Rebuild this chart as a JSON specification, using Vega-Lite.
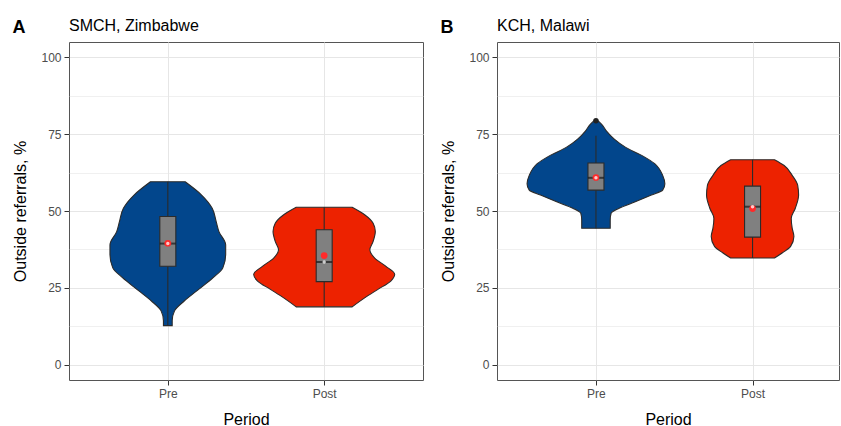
{
  "$schema": "https://vega.github.io/schema/vega-lite/v6.json",
  "background": "white",
  "padding": {"left": 12, "top": 17, "right": 1, "bottom": 1},
  "spacing": 16,
  "datasets": {
    "violin": [
      {"panel": "A", "period": "Pre", "y": 12.7, "lo": 0.972, "hi": 1.028},
      {"panel": "A", "period": "Pre", "y": 14.3, "lo": 0.972, "hi": 1.028},
      {"panel": "A", "period": "Pre", "y": 17.5, "lo": 0.957, "hi": 1.043},
      {"panel": "A", "period": "Pre", "y": 20.7, "lo": 0.895, "hi": 1.105},
      {"panel": "A", "period": "Pre", "y": 24.0, "lo": 0.815, "hi": 1.185},
      {"panel": "A", "period": "Pre", "y": 28.3, "lo": 0.710, "hi": 1.290},
      {"panel": "A", "period": "Pre", "y": 31.5, "lo": 0.648, "hi": 1.352},
      {"panel": "A", "period": "Pre", "y": 35.8, "lo": 0.630, "hi": 1.370},
      {"panel": "A", "period": "Pre", "y": 39.0, "lo": 0.630, "hi": 1.370},
      {"panel": "A", "period": "Pre", "y": 43.3, "lo": 0.673, "hi": 1.327},
      {"panel": "A", "period": "Pre", "y": 46.6, "lo": 0.691, "hi": 1.309},
      {"panel": "A", "period": "Pre", "y": 50.9, "lo": 0.716, "hi": 1.284},
      {"panel": "A", "period": "Pre", "y": 55.2, "lo": 0.784, "hi": 1.216},
      {"panel": "A", "period": "Pre", "y": 59.5, "lo": 0.889, "hi": 1.111},
      {"panel": "A", "period": "Post", "y": 18.8, "lo": 1.821, "hi": 2.179},
      {"panel": "A", "period": "Post", "y": 21.8, "lo": 1.739, "hi": 2.261},
      {"panel": "A", "period": "Post", "y": 24.5, "lo": 1.656, "hi": 2.344},
      {"panel": "A", "period": "Post", "y": 27.2, "lo": 1.574, "hi": 2.426},
      {"panel": "A", "period": "Post", "y": 29.4, "lo": 1.549, "hi": 2.451},
      {"panel": "A", "period": "Post", "y": 32.0, "lo": 1.605, "hi": 2.395},
      {"panel": "A", "period": "Post", "y": 34.7, "lo": 1.677, "hi": 2.323},
      {"panel": "A", "period": "Post", "y": 37.4, "lo": 1.708, "hi": 2.292},
      {"panel": "A", "period": "Post", "y": 40.1, "lo": 1.687, "hi": 2.313},
      {"panel": "A", "period": "Post", "y": 43.3, "lo": 1.673, "hi": 2.327},
      {"panel": "A", "period": "Post", "y": 46.0, "lo": 1.687, "hi": 2.313},
      {"panel": "A", "period": "Post", "y": 48.7, "lo": 1.739, "hi": 2.261},
      {"panel": "A", "period": "Post", "y": 51.2, "lo": 1.821, "hi": 2.179},
      {"panel": "B", "period": "Pre", "y": 44.4, "lo": 0.909, "hi": 1.091},
      {"panel": "B", "period": "Pre", "y": 47.1, "lo": 0.909, "hi": 1.091},
      {"panel": "B", "period": "Pre", "y": 49.3, "lo": 0.903, "hi": 1.097},
      {"panel": "B", "period": "Pre", "y": 50.9, "lo": 0.852, "hi": 1.148},
      {"panel": "B", "period": "Pre", "y": 53.0, "lo": 0.749, "hi": 1.251},
      {"panel": "B", "period": "Pre", "y": 55.2, "lo": 0.646, "hi": 1.354},
      {"panel": "B", "period": "Pre", "y": 56.8, "lo": 0.574, "hi": 1.426},
      {"panel": "B", "period": "Pre", "y": 58.9, "lo": 0.560, "hi": 1.440},
      {"panel": "B", "period": "Pre", "y": 61.6, "lo": 0.574, "hi": 1.426},
      {"panel": "B", "period": "Pre", "y": 65.4, "lo": 0.625, "hi": 1.375},
      {"panel": "B", "period": "Pre", "y": 68.1, "lo": 0.708, "hi": 1.292},
      {"panel": "B", "period": "Pre", "y": 70.7, "lo": 0.810, "hi": 1.190},
      {"panel": "B", "period": "Pre", "y": 73.4, "lo": 0.883, "hi": 1.117},
      {"panel": "B", "period": "Pre", "y": 76.1, "lo": 0.934, "hi": 1.066},
      {"panel": "B", "period": "Pre", "y": 78.3, "lo": 0.965, "hi": 1.035},
      {"panel": "B", "period": "Pre", "y": 79.4, "lo": 0.988, "hi": 1.012},
      {"panel": "B", "period": "Post", "y": 34.7, "lo": 1.860, "hi": 2.140},
      {"panel": "B", "period": "Post", "y": 36.4, "lo": 1.809, "hi": 2.191},
      {"panel": "B", "period": "Post", "y": 38.5, "lo": 1.757, "hi": 2.243},
      {"panel": "B", "period": "Post", "y": 41.7, "lo": 1.736, "hi": 2.264},
      {"panel": "B", "period": "Post", "y": 44.4, "lo": 1.747, "hi": 2.253},
      {"panel": "B", "period": "Post", "y": 47.6, "lo": 1.753, "hi": 2.247},
      {"panel": "B", "period": "Post", "y": 50.9, "lo": 1.727, "hi": 2.273},
      {"panel": "B", "period": "Post", "y": 55.2, "lo": 1.706, "hi": 2.294},
      {"panel": "B", "period": "Post", "y": 58.4, "lo": 1.712, "hi": 2.288},
      {"panel": "B", "period": "Post", "y": 61.6, "lo": 1.747, "hi": 2.253},
      {"panel": "B", "period": "Post", "y": 64.8, "lo": 1.798, "hi": 2.202},
      {"panel": "B", "period": "Post", "y": 66.7, "lo": 1.860, "hi": 2.140}
    ],
    "stats": [
      {"panel": "A", "period": "Pre", "pos": 1, "lower": 12.7, "q1": 32.0, "median": 39.4, "q3": 48.2, "upper": 59.5, "mean": 39.5},
      {"panel": "A", "period": "Post", "pos": 2, "lower": 18.8, "q1": 27.0, "median": 33.4, "q3": 43.9, "upper": 51.2, "mean": 35.5},
      {"panel": "B", "period": "Pre", "pos": 1, "lower": 44.4, "q1": 56.8, "median": 60.8, "q3": 65.6, "upper": 74.5, "mean": 60.9},
      {"panel": "B", "period": "Post", "pos": 2, "lower": 34.7, "q1": 41.5, "median": 51.4, "q3": 58.1, "upper": 66.7, "mean": 50.8}
    ],
    "outliers": [
      {"panel": "B", "period": "Pre", "pos": 1, "value": 79.4}
    ]
  },
  "hconcat": [
    {
      "title": {"text": "A", "anchor": "start", "frame": "bounds", "fontSize": 18, "fontWeight": "bold", "color": "#000000", "dy": 19, "offset": 0},
      "hconcat": [
        {
          "width": 354,
          "height": 338,
          "title": {"text": "SMCH, Zimbabwe", "anchor": "start", "frame": "group", "fontSize": 16, "fontWeight": "normal", "color": "#000000", "offset": 8},
          "resolve": {"axis": {"y": "independent"}},
          "layer": [
            {
              "data": {"name": "violin"},
              "transform": [{"filter": "datum.panel === 'A'"}],
              "mark": {"type": "area", "orient": "horizontal", "interpolate": "monotone", "stroke": "#2b2b2b", "strokeWidth": 1.1, "fillOpacity": 1},
              "encoding": {
                "y": {"field": "y", "type": "quantitative", "scale": {"domain": [-5, 105], "nice": false, "zero": false},
                      "axis": {"title": "Outside referrals, %", "values": [0, 25, 50, 75, 100], "grid": true, "titlePadding": 12}},
                "x": {"field": "lo", "type": "quantitative", "scale": {"domain": [0.4, 2.6], "nice": false, "zero": false},
                      "axis": {"title": "Period", "values": [1, 2], "grid": true, "labelExpr": "datum.value == 1 ? 'Pre' : 'Post'", "titlePadding": 12}},
                "x2": {"field": "hi"},
                "color": {"field": "period", "type": "nominal", "scale": {"domain": ["Pre", "Post"], "range": ["#02468C", "#ED2200"]}, "legend": null}
              }
            },
            {
              "data": {"name": "stats"},
              "transform": [{"filter": "datum.panel === 'A'"}],
              "mark": {"type": "rule", "color": "#2b2b2b", "strokeWidth": 1.1},
              "encoding": {
                "x": {"field": "pos", "type": "quantitative"},
                "y": {"field": "lower", "type": "quantitative",
                      "axis": {"orient": "right", "values": [12.5, 37.5, 62.5, 87.5], "grid": true, "gridWidth": 0.6, "labels": false, "ticks": false, "domain": false, "title": null}},
                "y2": {"field": "upper"}
              }
            },
            {
              "data": {"name": "stats"},
              "transform": [{"filter": "datum.panel === 'A'"}],
              "mark": {"type": "bar", "width": 16, "fill": "#808080", "stroke": "#2b2b2b", "strokeWidth": 1.1},
              "encoding": {
                "x": {"field": "pos", "type": "quantitative"},
                "y": {"field": "q1", "type": "quantitative", "axis": null},
                "y2": {"field": "q3"}
              }
            },
            {
              "data": {"name": "stats"},
              "transform": [{"filter": "datum.panel === 'A'"}],
              "mark": {"type": "tick", "orient": "horizontal", "size": 16, "thickness": 2, "color": "#1a1a1a"},
              "encoding": {
                "x": {"field": "pos", "type": "quantitative"},
                "y": {"field": "median", "type": "quantitative", "axis": null}
              }
            },
            {
              "data": {"name": "stats"},
              "transform": [{"filter": "datum.panel === 'A'"}],
              "mark": {"type": "point", "filled": true, "size": 45, "color": "#FF2A2A", "opacity": 1},
              "encoding": {
                "x": {"field": "pos", "type": "quantitative"},
                "y": {"field": "mean", "type": "quantitative", "axis": null}
              }
            },
            {
              "data": {"name": "stats"},
              "transform": [{"filter": "datum.panel === 'A'"}],
              "mark": {"type": "point", "filled": true, "size": 12, "color": "#FFFFFF", "opacity": 0.75},
              "encoding": {
                "x": {"field": "pos", "type": "quantitative"},
                "y": {"field": "median", "type": "quantitative", "axis": null}
              }
            }
          ]
        }
      ]
    },
    {
      "title": {"text": "B", "anchor": "start", "frame": "bounds", "fontSize": 18, "fontWeight": "bold", "color": "#000000", "dy": 19, "offset": 0},
      "hconcat": [
        {
          "width": 342,
          "height": 338,
          "title": {"text": "KCH, Malawi", "anchor": "start", "frame": "group", "fontSize": 16, "fontWeight": "normal", "color": "#000000", "offset": 8},
          "resolve": {"axis": {"y": "independent"}},
          "layer": [
            {
              "data": {"name": "violin"},
              "transform": [{"filter": "datum.panel === 'B'"}],
              "mark": {"type": "area", "orient": "horizontal", "interpolate": "monotone", "stroke": "#2b2b2b", "strokeWidth": 1.1, "fillOpacity": 1},
              "encoding": {
                "y": {"field": "y", "type": "quantitative", "scale": {"domain": [-5, 105], "nice": false, "zero": false},
                      "axis": {"title": "Outside referrals, %", "values": [0, 25, 50, 75, 100], "grid": true, "titlePadding": 12}},
                "x": {"field": "lo", "type": "quantitative", "scale": {"domain": [0.4, 2.52], "nice": false, "zero": false},
                      "axis": {"title": "Period", "values": [1, 2], "grid": true, "labelExpr": "datum.value == 1 ? 'Pre' : 'Post'", "titlePadding": 12}},
                "x2": {"field": "hi"},
                "color": {"field": "period", "type": "nominal", "scale": {"domain": ["Pre", "Post"], "range": ["#02468C", "#ED2200"]}, "legend": null}
              }
            },
            {
              "data": {"name": "stats"},
              "transform": [{"filter": "datum.panel === 'B'"}],
              "mark": {"type": "rule", "color": "#2b2b2b", "strokeWidth": 1.1},
              "encoding": {
                "x": {"field": "pos", "type": "quantitative"},
                "y": {"field": "lower", "type": "quantitative",
                      "axis": {"orient": "right", "values": [12.5, 37.5, 62.5, 87.5], "grid": true, "gridWidth": 0.6, "labels": false, "ticks": false, "domain": false, "title": null}},
                "y2": {"field": "upper"}
              }
            },
            {
              "data": {"name": "stats"},
              "transform": [{"filter": "datum.panel === 'B'"}],
              "mark": {"type": "bar", "width": 16, "fill": "#808080", "stroke": "#2b2b2b", "strokeWidth": 1.1},
              "encoding": {
                "x": {"field": "pos", "type": "quantitative"},
                "y": {"field": "q1", "type": "quantitative", "axis": null},
                "y2": {"field": "q3"}
              }
            },
            {
              "data": {"name": "stats"},
              "transform": [{"filter": "datum.panel === 'B'"}],
              "mark": {"type": "tick", "orient": "horizontal", "size": 16, "thickness": 2, "color": "#1a1a1a"},
              "encoding": {
                "x": {"field": "pos", "type": "quantitative"},
                "y": {"field": "median", "type": "quantitative", "axis": null}
              }
            },
            {
              "data": {"name": "stats"},
              "transform": [{"filter": "datum.panel === 'B'"}],
              "mark": {"type": "point", "filled": true, "size": 45, "color": "#FF2A2A", "opacity": 1},
              "encoding": {
                "x": {"field": "pos", "type": "quantitative"},
                "y": {"field": "mean", "type": "quantitative", "axis": null}
              }
            },
            {
              "data": {"name": "stats"},
              "transform": [{"filter": "datum.panel === 'B'"}],
              "mark": {"type": "point", "filled": true, "size": 12, "color": "#FFFFFF", "opacity": 0.75},
              "encoding": {
                "x": {"field": "pos", "type": "quantitative"},
                "y": {"field": "median", "type": "quantitative", "axis": null}
              }
            },
            {
              "data": {"name": "outliers"},
              "transform": [{"filter": "datum.panel === 'B'"}],
              "mark": {"type": "point", "filled": true, "size": 30, "color": "#222222", "opacity": 1},
              "encoding": {
                "x": {"field": "pos", "type": "quantitative"},
                "y": {"field": "value", "type": "quantitative", "axis": null}
              }
            }
          ]
        }
      ]
    }
  ],
  "config": {
    "font": "Liberation Sans",
    "view": {"stroke": "#555555", "strokeWidth": 1},
    "title": {"font": "Liberation Sans"},
    "axis": {
      "labelFont": "Liberation Sans",
      "titleFont": "Liberation Sans",
      "labelFontSize": 12,
      "labelColor": "#4d4d4d",
      "titleFontSize": 16,
      "titleFontWeight": "normal",
      "titleColor": "#000000",
      "tickColor": "#333333",
      "tickSize": 5,
      "labelPadding": 3,
      "domain": false,
      "gridColor": "#e6e6e6",
      "gridWidth": 1
    }
  }
}
